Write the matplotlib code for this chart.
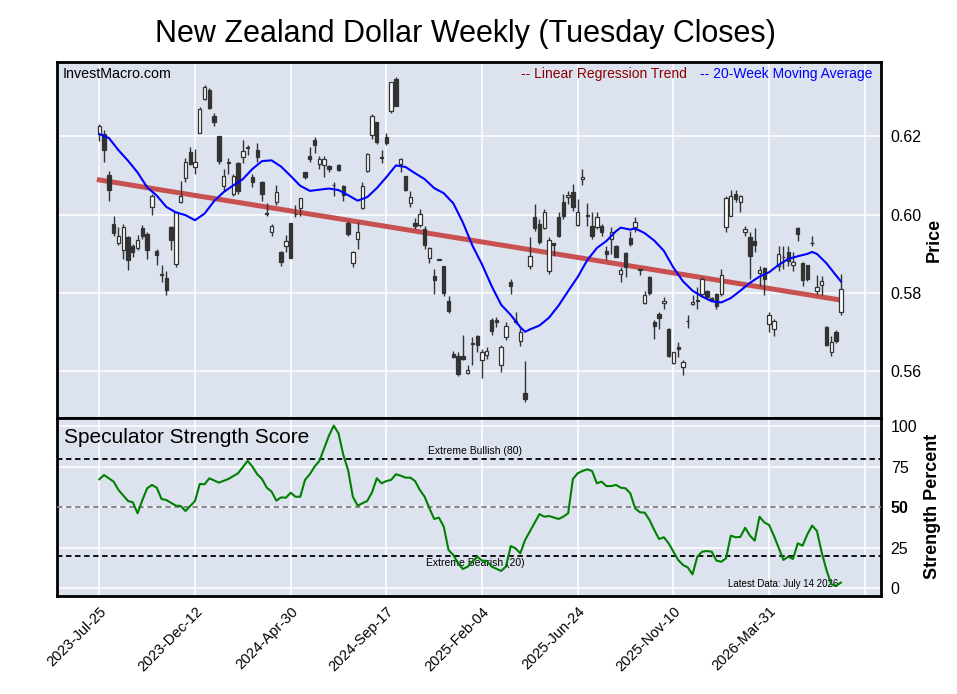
import matplotlib
matplotlib.use("Agg")
import matplotlib.pyplot as plt
import numpy as np

plt.rcParams['font.family'] = ['Liberation Sans', 'DejaVu Sans']

# weekly candles, Tuesday closes, 2023-07-25 .. 2026-07-14
opens = [0.6206, 0.6206, 0.6102, 0.5976, 0.5928, 0.5911, 0.5942, 0.5921, 0.5915, 0.5965,
         0.5952, 0.6020, 0.5908, 0.5849, 0.5838, 0.5968, 0.5874, 0.6033, 0.6094, 0.6161,
         0.6123, 0.6210, 0.6295, 0.6319, 0.6251, 0.6200, 0.6074, 0.6133, 0.6053, 0.6131,
         0.6148, 0.6171, 0.6097, 0.6166, 0.6084, 0.6004, 0.5955, 0.6033, 0.5905, 0.5919,
         0.5978, 0.6001, 0.6016, 0.6108, 0.6151, 0.6191, 0.6129, 0.6128, 0.6125, 0.6076,
         0.6127, 0.6074, 0.5980, 0.5877, 0.5938, 0.6017, 0.6112, 0.6203, 0.6236, 0.6147,
         0.6199, 0.6266, 0.6346, 0.6129, 0.6098, 0.6030, 0.5980, 0.5974, 0.5963, 0.5889,
         0.5844, 0.5887, 0.5868, 0.5780, 0.5643, 0.5638, 0.5640, 0.5595, 0.5672, 0.5691,
         0.5630, 0.5642, 0.5732, 0.5732, 0.5616, 0.5688, 0.5827, 0.5729, 0.5678, 0.5545,
         0.5870, 0.5995, 0.5976, 0.5966, 0.5857, 0.5927, 0.5995, 0.6033, 0.6046, 0.6057,
         0.5974, 0.6091, 0.5998, 0.5972, 0.5968, 0.5972, 0.5908, 0.5938, 0.5921, 0.5849,
         0.5901, 0.5940, 0.5968, 0.5860, 0.5775, 0.5840, 0.5725, 0.5746, 0.5775, 0.5708,
         0.5621, 0.5661, 0.5610, 0.5729, 0.5772, 0.5781, 0.5797, 0.5806, 0.5788, 0.5797,
         0.5798, 0.5969, 0.5997, 0.6053, 0.6033, 0.5957, 0.5944, 0.5934, 0.5851, 0.5864,
         0.5721, 0.5708, 0.5870, 0.5892, 0.5904, 0.5871, 0.5965, 0.5876, 0.5872, 0.5928,
         0.5806, 0.5821, 0.5714, 0.5650, 0.5700, 0.5751]
highs = [0.6231, 0.6217, 0.6111, 0.5997, 0.5968, 0.5976, 0.5946, 0.5925, 0.5948, 0.5974,
         0.5957, 0.6053, 0.5912, 0.5872, 0.5857, 0.5970, 0.6010, 0.6087, 0.6146, 0.6172,
         0.6168, 0.6274, 0.6331, 0.6323, 0.6261, 0.6200, 0.6117, 0.6146, 0.6104, 0.6134,
         0.6191, 0.6178, 0.6104, 0.6183, 0.6087, 0.6030, 0.5976, 0.6076, 0.5908, 0.5948,
         0.5980, 0.6025, 0.6044, 0.6110, 0.6172, 0.6199, 0.6151, 0.6149, 0.6127, 0.6083,
         0.6129, 0.6077, 0.5985, 0.5908, 0.5982, 0.6083, 0.6159, 0.6257, 0.6237, 0.6166,
         0.6210, 0.6340, 0.6351, 0.6146, 0.6100, 0.6061, 0.5991, 0.6014, 0.5970, 0.5917,
         0.5861, 0.5888, 0.5870, 0.5793, 0.5653, 0.5649, 0.5694, 0.5616, 0.5687, 0.5693,
         0.5657, 0.5661, 0.5735, 0.5740, 0.5666, 0.5727, 0.5836, 0.5751, 0.5710, 0.5627,
         0.5942, 0.6027, 0.5989, 0.6014, 0.5942, 0.5929, 0.6006, 0.6053, 0.6061, 0.6078,
         0.6040, 0.6118, 0.6030, 0.6006, 0.6006, 0.5976, 0.5921, 0.5968, 0.5923, 0.5866,
         0.5904, 0.5959, 0.5993, 0.5861, 0.5806, 0.5843, 0.5732, 0.5752, 0.5791, 0.5710,
         0.5650, 0.5676, 0.5630, 0.5744, 0.5795, 0.5815, 0.5840, 0.5809, 0.5790, 0.5800,
         0.5862, 0.6049, 0.6064, 0.6064, 0.6050, 0.5972, 0.5955, 0.5965, 0.5870, 0.5866,
         0.5751, 0.5734, 0.5921, 0.5921, 0.5919, 0.5906, 0.5968, 0.5880, 0.5872, 0.5946,
         0.5847, 0.5844, 0.5717, 0.5691, 0.5706, 0.5849]
lows = [0.6189, 0.6134, 0.6036, 0.5946, 0.5923, 0.5887, 0.5860, 0.5891, 0.5911, 0.5938,
        0.5887, 0.5999, 0.5872, 0.5829, 0.5795, 0.5911, 0.5866, 0.6031, 0.6083, 0.6127,
        0.6104, 0.6209, 0.6294, 0.6271, 0.6227, 0.6129, 0.6061, 0.6104, 0.6047, 0.6053,
        0.6132, 0.6152, 0.6071, 0.6135, 0.6036, 0.5996, 0.5945, 0.6025, 0.5870, 0.5904,
        0.5889, 0.5995, 0.5997, 0.6091, 0.6135, 0.6157, 0.6117, 0.6097, 0.6108, 0.6049,
        0.6112, 0.6036, 0.5946, 0.5866, 0.5912, 0.6014, 0.6110, 0.6193, 0.6180, 0.6132,
        0.6178, 0.6260, 0.6277, 0.6108, 0.6061, 0.6021, 0.5963, 0.5968, 0.5912, 0.5876,
        0.5797, 0.5884, 0.5793, 0.5749, 0.5633, 0.5587, 0.5630, 0.5593, 0.5616, 0.5650,
        0.5582, 0.5632, 0.5693, 0.5712, 0.5597, 0.5681, 0.5797, 0.5721, 0.5664, 0.5521,
        0.5861, 0.5959, 0.5925, 0.5963, 0.5849, 0.5895, 0.5942, 0.5989, 0.6027, 0.6010,
        0.5972, 0.6076, 0.5972, 0.5938, 0.5963, 0.5945, 0.5885, 0.5900, 0.5891, 0.5829,
        0.5840, 0.5921, 0.5957, 0.5846, 0.5772, 0.5795, 0.5683, 0.5708, 0.5759, 0.5636,
        0.5619, 0.5636, 0.5591, 0.5710, 0.5769, 0.5758, 0.5789, 0.5785, 0.5780, 0.5758,
        0.5793, 0.5957, 0.5996, 0.6033, 0.6006, 0.5946, 0.5837, 0.5906, 0.5819, 0.5795,
        0.5700, 0.5691, 0.5857, 0.5861, 0.5868, 0.5857, 0.5934, 0.5819, 0.5832, 0.5919,
        0.5797, 0.5795, 0.5664, 0.5638, 0.5672, 0.5744]
closes = [0.6226, 0.6166, 0.6064, 0.5953, 0.5945, 0.5969, 0.5885, 0.5904, 0.5936, 0.5946,
          0.5911, 0.6047, 0.5897, 0.5845, 0.5808, 0.5935, 0.6006, 0.6049, 0.6135, 0.6129,
          0.6134, 0.6271, 0.6327, 0.6272, 0.6238, 0.6138, 0.6100, 0.6134, 0.6100, 0.6061,
          0.6163, 0.6172, 0.6084, 0.6148, 0.6053, 0.6003, 0.5972, 0.6059, 0.5880, 0.5934,
          0.5889, 0.6003, 0.6042, 0.6097, 0.6142, 0.6178, 0.6142, 0.6142, 0.6118, 0.6075,
          0.6115, 0.6050, 0.5952, 0.5904, 0.5955, 0.6074, 0.6155, 0.6253, 0.6186, 0.6146,
          0.6183, 0.6338, 0.6278, 0.6142, 0.6064, 0.6046, 0.5970, 0.6003, 0.5923, 0.5914,
          0.5834, 0.5885, 0.5800, 0.5753, 0.5636, 0.5593, 0.5631, 0.5604, 0.5671, 0.5666,
          0.5650, 0.5653, 0.5704, 0.5727, 0.5661, 0.5715, 0.5819, 0.5725, 0.5701, 0.5529,
          0.5894, 0.5966, 0.5931, 0.6008, 0.5936, 0.5923, 0.5946, 0.5997, 0.6050, 0.6020,
          0.6008, 0.6097, 0.5997, 0.5945, 0.5995, 0.5957, 0.5900, 0.5955, 0.5893, 0.5860,
          0.5866, 0.5925, 0.5982, 0.5859, 0.5796, 0.5800, 0.5715, 0.5736, 0.5780, 0.5640,
          0.5649, 0.5657, 0.5623, 0.5728, 0.5778, 0.5780, 0.5836, 0.5791, 0.5783, 0.5768,
          0.5845, 0.6044, 0.6047, 0.6040, 0.6049, 0.5963, 0.5895, 0.5923, 0.5860, 0.5837,
          0.5744, 0.5729, 0.5900, 0.5891, 0.5883, 0.5880, 0.5951, 0.5834, 0.5836, 0.5927,
          0.5816, 0.5832, 0.5666, 0.5676, 0.5678, 0.5810]

# 20-week moving average, read at these weeks
ma_week = [0, 2, 4, 6, 8, 10, 12, 14, 16, 18, 20, 22, 24, 26, 28, 30, 32, 34, 36, 38,
           40, 42, 44, 46, 48, 50, 52, 54, 56, 58, 60, 62, 64, 66, 68, 70, 72, 74, 76, 78,
           80, 82, 84, 86, 88, 89, 90, 92, 94, 96, 98, 100, 102, 104, 106, 108, 109, 111, 112, 114,
           116, 118, 120, 122, 124, 126, 128, 130, 132, 134, 136, 138, 140, 142, 144, 146, 148, 149, 150, 152,
           154, 155]
ma_val = [0.6206, 0.6196, 0.6165, 0.6138, 0.6108, 0.6070, 0.6049, 0.6020, 0.6006, 0.5999,
          0.5986, 0.6003, 0.6035, 0.6058, 0.6075, 0.6091, 0.6117, 0.6137, 0.6139, 0.6123,
          0.6099, 0.6074, 0.6061, 0.6064, 0.6067, 0.6063, 0.6050, 0.6036, 0.6045, 0.6068,
          0.6096, 0.6126, 0.6122, 0.6106, 0.6091, 0.6068, 0.6055, 0.6029, 0.5980, 0.5921,
          0.5873, 0.5818, 0.5770, 0.5744, 0.5713, 0.5701, 0.5707, 0.5717, 0.5737, 0.5768,
          0.5805, 0.5841, 0.5884, 0.5915, 0.5933, 0.5958, 0.5967, 0.5962, 0.5965, 0.5953,
          0.5934, 0.5908, 0.5865, 0.5830, 0.5806, 0.5791, 0.5779, 0.5776, 0.5787, 0.5806,
          0.5826, 0.5842, 0.5853, 0.5872, 0.5887, 0.5894, 0.5900, 0.5905, 0.5900, 0.5876,
          0.5845, 0.5830]

# linear regression trend, first and last week
trend_start = 0.6089
trend_end = 0.5782

# speculator strength score
ss_week = [0, 1, 3, 4, 6, 7, 8, 9, 10, 11, 12, 13, 14, 16, 17, 18, 20, 21, 22, 23,
           25, 27, 29, 31, 32, 33, 34, 35, 36, 37, 38, 39, 40, 41, 42, 43, 44, 45, 46, 47,
           48, 49, 50, 51, 52, 53, 54, 55, 56, 57, 58, 59, 60, 61, 62, 63, 64, 65, 66, 67,
           68, 69, 70, 71, 72, 73, 74, 75, 76, 77, 78, 79, 80, 81, 82, 84, 85, 86, 87, 88,
           89, 92, 93, 94, 96, 97, 98, 99, 100, 101, 102, 103, 104, 105, 106, 107, 108, 109, 110, 111,
           112, 113, 114, 115, 116, 117, 118, 119, 121, 122, 123, 124, 125, 126, 127, 128, 129, 130, 131, 132,
           133, 134, 135, 136, 137, 138, 139, 140, 141, 142, 143, 144, 145, 146, 147, 148, 149, 150, 151, 152,
           153, 154, 155]
ss_val = [67.3, 69.9, 65.8, 60.7, 53.9, 53.1, 46.3, 54.5, 61.7, 63.8, 62.1, 55.1, 54.5, 51.0, 50.8, 47.7, 53.9, 64.4, 64.2, 67.9,
          65.2, 67.5, 71.0, 78.6, 75.1, 70.4, 67.5, 62.1, 59.7, 54.1, 56.1, 55.9, 59.0, 56.5, 56.5, 66.9, 70.4, 75.1, 78.6, 86.4,
          94.2, 100.4, 95.6, 82.3, 73.0, 56.5, 51.0, 52.5, 53.9, 59.2, 67.9, 64.8, 66.2, 66.9, 70.4, 69.5, 68.3, 68.3, 66.2, 60.7,
          56.5, 49.4, 42.8, 43.6, 38.0, 23.6, 20.6, 15.4, 11.9, 13.4, 16.4, 19.5, 17.1, 16.9, 13.4, 10.7, 13.4, 26.1, 24.7, 21.6,
          29.8, 45.8, 44.2, 44.6, 42.8, 44.2, 46.3, 67.5, 71.0, 72.4, 73.4, 72.4, 64.8, 65.8, 63.1, 63.1, 63.8, 62.1, 61.7, 58.6,
          49.4, 46.9, 46.7, 42.2, 36.0, 30.4, 31.5, 27.8, 17.5, 14.4, 12.9, 8.6, 19.5, 22.6, 23.0, 22.6, 17.1, 16.4, 18.5, 32.5,
          31.5, 31.7, 37.4, 32.5, 29.4, 44.2, 40.7, 39.1, 32.5, 25.1, 17.5, 19.5, 18.1, 27.8, 26.3, 33.3, 38.7, 35.4, 22.2, 11.3,
          2.5, 1.5, 3.5]

tick_weeks = [0, 20, 40, 60, 80, 100, 120, 140, 160]
tick_labels = ["2023-Jul-25", "2023-Dec-12", "2024-Apr-30", "2024-Sep-17", "2025-Feb-04",
               "2025-Jun-24", "2025-Nov-10", "2026-Mar-31", ""]

bg = "#dce3ee"
dark = "#333333"

fig = plt.figure(figsize=(9.57, 6.94), dpi=100)
ax1 = fig.add_axes([0.0596, 0.3984, 0.861, 0.5127])
ax2 = fig.add_axes([0.0596, 0.1412, 0.861, 0.2572], sharex=ax1)

o = np.array(opens); h = np.array(highs); l = np.array(lows); c = np.array(closes)
x = np.arange(len(o))
up = c >= o
ax1.vlines(x, l, h, color=dark, lw=1, zorder=3)
body_lo = np.minimum(o, c)
body_h = np.maximum(np.abs(c - o), 0.00015)
ax1.bar(x[up], body_h[up], bottom=body_lo[up], width=0.7, color="white",
        edgecolor=dark, linewidth=0.9, zorder=4)
ax1.bar(x[~up], body_h[~up], bottom=body_lo[~up], width=0.7, color=dark,
        edgecolor=dark, linewidth=0.9, zorder=4)

ax1.plot([x[0], x[-1]], [trend_start, trend_end], color="#c85050", lw=3.6, zorder=2)
ax1.plot(ma_week, ma_val, color="blue", lw=1.5, zorder=5)

for ax in (ax1, ax2):
    ax.set_facecolor(bg)
    ax.grid(True, color="white", lw=1.1)
    ax.set_axisbelow(True)
    for s in ax.spines.values():
        s.set_linewidth(2)
        s.set_color("black")
    ax.yaxis.tick_right()
    ax.tick_params(axis="y", length=0, pad=7, labelsize=11.5)
    ax.tick_params(axis="x", length=0)

ax1.set_xlim(-8.84, 163.4)
ax1.set_ylim(0.5482, 0.6391)
ax1.set_yticks([0.56, 0.58, 0.60, 0.62])
ax1.set_yticklabels(["0.56", "0.58", "0.60", "0.62"])
ax1.set_xticks(tick_weeks)
ax1.tick_params(axis="x", labelbottom=False)
ax1.yaxis.set_label_position("right")
ax1.set_ylabel("Price", fontsize=13, fontweight="bold", labelpad=3)

ax1.text(0.007, 0.985, "InvestMacro.com", transform=ax1.transAxes, fontsize=10.3,
         ha="left", va="top")
ax1.text(0.764, 0.985, "-- Linear Regression Trend", transform=ax1.transAxes,
         fontsize=10, color="#8b0000", ha="right", va="top")
ax1.text(0.99, 0.985, "-- 20-Week Moving Average", transform=ax1.transAxes,
         fontsize=10, color="blue", ha="right", va="top")

ax2.plot(ss_week, ss_val, color="green", lw=1.5, zorder=4)
ax2.axhline(80, color="black", ls="--", lw=1.3, dashes=(3, 2), zorder=3)
ax2.axhline(20, color="black", ls="--", lw=1.3, dashes=(3, 2), zorder=3)
ax2.axhline(50, color="gray", ls="--", lw=1.3, dashes=(3, 2), zorder=3)
ax2.set_ylim(-4.75, 105.4)
ax2.set_yticks([0, 25, 50, 75, 100])
ax2.set_yticklabels(["0", "25", "50", "75", "100"])
ax2.get_yticklabels()[2].set_fontweight("bold")
ax2.yaxis.set_label_position("right")
ax2.set_ylabel("Strength Percent", fontsize=13, fontweight="bold", labelpad=5)
ax2.set_xticks(tick_weeks)
ax2.set_xticklabels(tick_labels, rotation=45, ha="right", rotation_mode="anchor",
                    fontsize=10.5)
ax2.tick_params(axis="x", pad=6)

ax2.text(0.008, 0.94, "Speculator Strength Score", transform=ax2.transAxes,
         fontsize=15, ha="left", va="top")
ax2.text(78.5, 81.5, "Extreme Bullish (80)", fontsize=7.5, ha="center", va="bottom")
ax2.text(78.5, 18.5, "Extreme Bearish (20)", fontsize=7.5, ha="center", va="top")
ax2.text(154.5, -0.5, "Latest Data: July 14 2026", fontsize=7, ha="right", va="bottom")

fig.suptitle("New Zealand Dollar Weekly (Tuesday Closes)", x=0.486, y=0.972,
             fontsize=22, va="top")

fig.savefig("out.png", dpi=100)
